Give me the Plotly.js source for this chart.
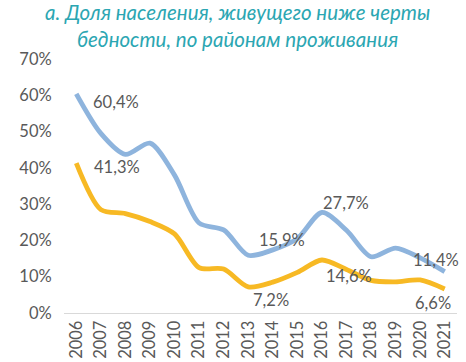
<!DOCTYPE html>
<html><head><meta charset="utf-8">
<script src="https://cdn.plot.ly/plotly-3.0.1.min.js"></script>
<style>html,body{margin:0;padding:0;background:#fff}#c{width:466px;height:362px}</style>
</head><body><div id="c"></div>
<script>
const years = ["2006","2007","2008","2009","2010","2011","2012","2013","2014","2015","2016","2017","2018","2019","2020","2021"];
const seriesBlue = [0.604,0.495,0.437,0.468,0.38,0.248,0.229,0.159,0.174,0.205,0.277,0.228,0.155,0.179,0.152,0.114];
const seriesOrange = [0.413,0.285,0.274,0.252,0.218,0.125,0.121,0.072,0.085,0.112,0.146,0.12,0.09,0.086,0.091,0.066];
const labelYears = ["2006","2013","2016","2021"];
const titleText = "а. Доля населения, живущего ниже черты<br>бедности, по районам проживания";

const fmt = v => (v*100).toFixed(1).replace('.', ',') + '%';
const font = {family: 'Lato, "Open Sans", sans-serif', size: 16.5, color: '#595959'};

const traces = [
  {x: years, y: seriesBlue, type: 'scatter', mode: 'lines', line: {color: '#8EB4DD', width: 4.8, shape: 'spline', smoothing: 0.8}, hoverinfo: 'none'},
  {x: years, y: seriesOrange, type: 'scatter', mode: 'lines', line: {color: '#F7B924', width: 4.8, shape: 'spline', smoothing: 0.8}, hoverinfo: 'none'}
];

const offsets = {
  blue: {"2006": [40, -8], "2013": [34, 15], "2016": [24, 9], "2021": [-9, 12]},
  orange: {"2006": [41, -4], "2013": [23, -13], "2016": [27, -16], "2021": [-12, -14]}
};
const annotations = [];
labelYears.forEach(yr => {
  const i = years.indexOf(yr);
  [['blue', seriesBlue], ['orange', seriesOrange]].forEach(([k, arr]) => {
    const o = offsets[k][yr];
    annotations.push({x: i, y: arr[i], xref: 'x', yref: 'y', text: fmt(arr[i]), showarrow: false,
      xshift: o[0], yshift: o[1], font: Object.assign({}, font)});
  });
});

const layout = {
  width: 466, height: 362,
  margin: {l: 64, r: 9, t: 59, b: 49},
  paper_bgcolor: '#fff', plot_bgcolor: '#fff',
  showlegend: false,
  title: {text: titleText, font: {family: 'Lato, "Open Sans", sans-serif', size: 20.5, color: '#2BA6B2', style: 'italic'},
    x: 0.51, xanchor: 'center', y: 0.944, yanchor: 'top'},
  xaxis: {type: 'category', range: [-0.5, 15.5], tickangle: -90, tickfont: font, showgrid: false,
    showline: true, linecolor: '#D9D9D9', linewidth: 1, ticks: '', zeroline: false, fixedrange: true},
  yaxis: {range: [0, 0.7], dtick: 0.1, tickformat: '.0%', tickfont: font, showgrid: false, showline: false,
    zeroline: false, ticks: 'outside', ticklen: 8, tickcolor: 'rgba(0,0,0,0)', fixedrange: true},
  annotations: annotations
};
Plotly.newPlot('c', traces, layout, {staticPlot: true, displayModeBar: false});
</script>
</body></html>
